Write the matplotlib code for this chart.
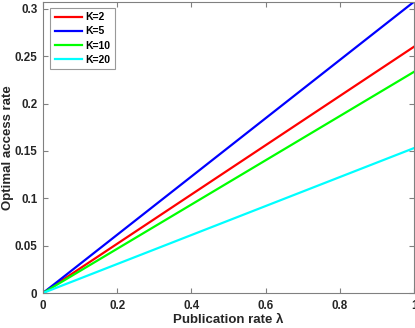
import numpy as np
import matplotlib
matplotlib.use("Agg")
import matplotlib.pyplot as plt

plt.rcParams['font.family'] = ['Liberation Sans', 'DejaVu Sans']

labels = ["K=2", "K=5", "K=10", "K=20"]
colors = ["#ff0000", "#0000ff", "#00ff00", "#00ffff"]
x_vals = [0.0, 1.0]
y_vals = {
    "K=2": [0.0, 0.260],
    "K=5": [0.0, 0.3075],
    "K=10": [0.0, 0.2335],
    "K=20": [0.0, 0.1530],
}
xticks = [0, 0.2, 0.4, 0.6, 0.8, 1]
yticks = [0, 0.05, 0.1, 0.15, 0.2, 0.25, 0.3]

fig = plt.figure(figsize=(4.15, 3.28), dpi=100)
ax = fig.add_axes([0.1036, 0.1067, 0.894, 0.888])

for lab, c in zip(labels, colors):
    ax.plot(x_vals, y_vals[lab], color=c, lw=1.6, label=lab)

ax.set_xlim(0, 1)
ax.set_ylim(0, 0.3075)
ax.set_xticks(xticks)
ax.set_xticklabels(["0", "0.2", "0.4", "0.6", "0.8", "1"])
ax.set_yticks(yticks)
ax.set_yticklabels(["0", "0.05", "0.1", "0.15", "0.2", "0.25", "0.3"])

gray = "#808080"
for s in ax.spines.values():
    s.set_color(gray)
    s.set_linewidth(0.8)
ax.tick_params(direction='in', length=3.5, width=0.8, color=gray,
               top=True, right=True, labelsize=8.4, labelcolor='#262626')
ax.tick_params(axis='y', pad=4)
ax.tick_params(axis='x', pad=5)
for t in ax.get_xticklabels() + ax.get_yticklabels():
    t.set_fontweight('bold')

ax.set_xlabel("Publication rate λ", fontsize=9.5, fontweight='bold', color='#262626')
ax.set_ylabel("Optimal access rate", fontsize=9.5, fontweight='bold', color='#262626')
ax.xaxis.set_label_coords(0.5, -0.073)
ax.yaxis.set_label_coords(-0.079, 0.5)

leg = ax.legend(loc='upper left', bbox_to_anchor=(0.019, 0.98), prop={'weight': 'bold', 'size': 7.5},
                frameon=True, fancybox=False, edgecolor=gray, handlelength=2.6,
                borderpad=0.45, labelspacing=0.4, handletextpad=0.3, borderaxespad=0)
leg.get_frame().set_linewidth(0.8)

fig.savefig("out.png", dpi=100)
